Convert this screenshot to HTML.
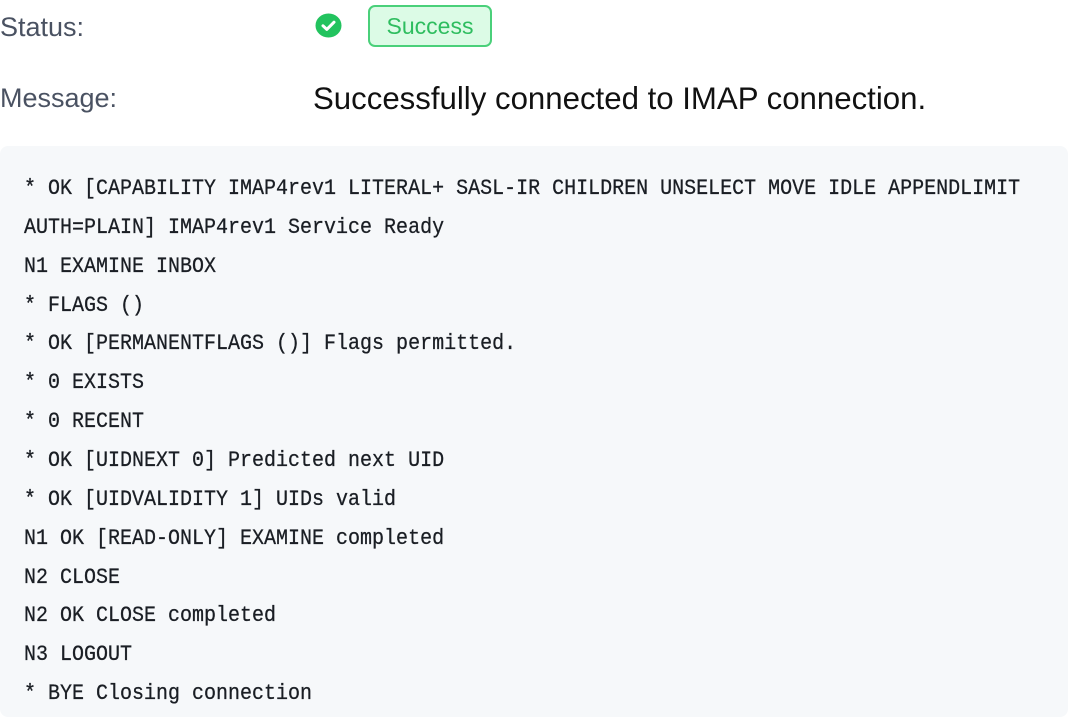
<!DOCTYPE html>
<html>
<head>
<meta charset="utf-8">
<style>
  html, body { margin:0; padding:0; background:#ffffff; }
  body { width:1068px; height:722px; position:relative; overflow:hidden; font-family:"Liberation Sans", sans-serif; }
  .lbl { position:absolute; left:0; color:#4a5262; font-size:27px; line-height:1; white-space:nowrap; }
  .icon { position:absolute; left:315px; top:13px; width:27px; height:25px; }
  .badge { position:absolute; left:368px; top:5px; width:120px; height:38px; border:2px solid #4ad07a; background:#dcfbe6; border-radius:7px; }
  .badge span { position:absolute; left:0; right:0; top:0; bottom:0; text-align:center; line-height:38px; font-size:23px; color:#2ebd5f; }
  .msg { position:absolute; left:313px; color:#111; font-size:31.2px; line-height:1; white-space:nowrap; }
  .code { position:absolute; left:0; top:146px; width:1068px; height:571px; background:#f6f8fa; border-radius:8px; }
  .lines { position:absolute; left:24px; top:25px; font-family:"Liberation Mono", monospace; font-size:20px; line-height:38.86px; color:#1a1e24; white-space:pre; }
  .lines div { transform:scaleY(1.12); transform-origin:0 60%; -webkit-text-stroke:0.25px #1a1e24; }
</style>
</head>
<body>
  <div class="lbl" style="top:14px;">Status:</div>
  <svg class="icon" viewBox="0 0 27 25">
    <ellipse cx="13.5" cy="12.5" rx="13" ry="12" fill="#22c35e"/>
    <path d="M8 12.8 L11.8 16.4 L19 9.2" fill="none" stroke="#ffffff" stroke-width="3" stroke-linecap="round" stroke-linejoin="round"/>
  </svg>
  <div class="badge"><span>Success</span></div>

  <div class="lbl" style="top:85px;">Message:</div>
  <div class="msg" style="top:83px;">Successfully connected to IMAP connection.</div>

  <div class="code">
    <div class="lines"><div>* OK [CAPABILITY IMAP4rev1 LITERAL+ SASL-IR CHILDREN UNSELECT MOVE IDLE APPENDLIMIT</div><div>AUTH=PLAIN] IMAP4rev1 Service Ready</div><div>N1 EXAMINE INBOX</div><div>* FLAGS ()</div><div>* OK [PERMANENTFLAGS ()] Flags permitted.</div><div>* 0 EXISTS</div><div>* 0 RECENT</div><div>* OK [UIDNEXT 0] Predicted next UID</div><div>* OK [UIDVALIDITY 1] UIDs valid</div><div>N1 OK [READ-ONLY] EXAMINE completed</div><div>N2 CLOSE</div><div>N2 OK CLOSE completed</div><div>N3 LOGOUT</div><div>* BYE Closing connection</div></div>
  </div>
</body>
</html>
